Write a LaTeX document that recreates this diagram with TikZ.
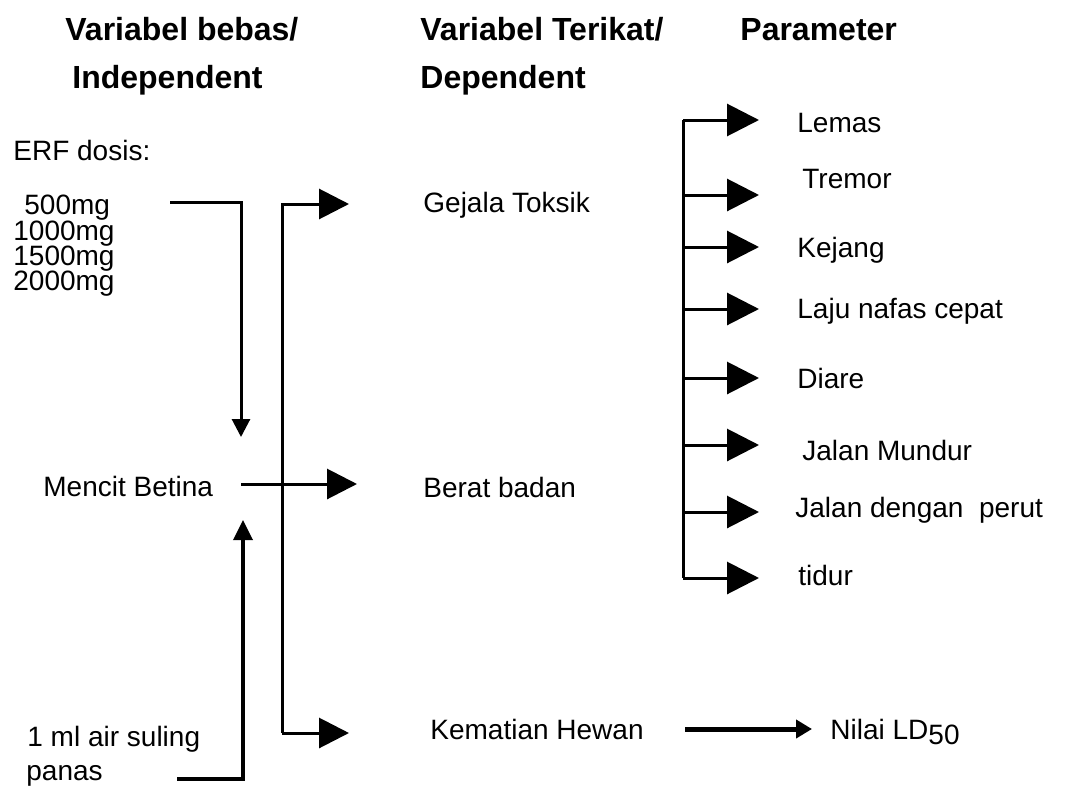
\documentclass[tikz,border=0pt]{standalone}
\usepackage{fontspec}
\setmainfont{Liberation Sans}
\usetikzlibrary{arrows.meta}
\begin{document}
\begin{tikzpicture}[x=0.5pt,y=-0.5pt,
  txt/.style={font=\fontsize{14}{16}\selectfont, inner sep=0pt, anchor=base west},
  dose/.style={txt},
  ttl/.style={font=\fontsize{16}{18}\selectfont\bfseries, inner sep=0pt, anchor=base west},
  ln/.style={line width=1.5pt},
  bigarr/.style={ln, -{Triangle[length=15pt,width=15pt]}},
  pararr/.style={ln, -{Triangle[length=16pt,width=16pt]}},
  smallarr/.style={ln, -{Triangle[length=9pt,width=9pt]}},
  uparr/.style={line width=1.75pt, -{Triangle[length=10pt,width=9.5pt]}},
  thickarr/.style={line width=2.5pt, -{Triangle[length=8pt,width=9pt]}}
]
\useasboundingbox (0,0) rectangle (1071,787);

% titles
\node[ttl] (t1) at (65,40) {Variabel bebas/};
\node[ttl] (t2) at (72,88) {Independent};
\node[ttl] (t3) at (420,40) {Variabel Terikat/};
\node[ttl] (t4) at (420,88) {Dependent};
\node[ttl] (t5) at (740,40) {Parameter};

% left column
\node[txt] (erf) at (13,160) {ERF dosis:};
\node[dose] (d1) at (24,214) {500mg};
\node[dose] (d2) at (13,240) {1000mg};
\node[dose] (d3) at (13,265) {1500mg};
\node[dose] (d4) at (13,290) {2000mg};
\node[txt] (mb) at (43,496) {Mencit Betina};
\node[txt] (air1) at (27,746) {1 ml air suling};
\node[txt] (air2) at (26,780) {panas};

% middle column
\node[txt] (gt) at (423,212) {Gejala Toksik};
\node[txt] (bb) at (423,497) {Berat badan};
\node[txt] (kh) at (430,739) {Kematian Hewan};
\node[txt] (ld) at (830,739) {Nilai LD\raisebox{-2.5pt}{50}};

% right column
\node[txt] (p1) at (797,132) {Lemas};
\node[txt] (p2) at (802,188) {Tremor};
\node[txt] (p3) at (797,257) {Kejang};
\node[txt] (p4) at (797,318) {Laju nafas cepat};
\node[txt] (p5) at (797,388) {Diare};
\node[txt] (p6) at (802,460) {Jalan Mundur};
\node[txt] (p7) at (795,517) {Jalan dengan\ \ perut};
\node[txt] (p8) at (798,585) {tidur};

% coordinates
\coordinate (dS) at (170,202);
\coordinate (dC) at (241,202);
\coordinate (dE) at (241,437);
\coordinate (uS) at (177,779);
\coordinate (uC) at (243,779);
\coordinate (uE) at (243,520);
\coordinate (bT) at (282,204);
\coordinate (bB) at (282,733);
\coordinate (aT) at (349,204);
\coordinate (mS) at (241,484);
\coordinate (aM) at (357,484);
\coordinate (aB) at (349,733);
\coordinate (kS) at (685,729);
\coordinate (kE) at (812,729);

% left arrows
\draw[smallarr] (dS) -- (dC) -- (dE);
\draw[uparr] (uS) -- (uC) -- (uE);

% bracket to dependent variables
\draw[bigarr] (bB) -- (aB);
\draw[bigarr] (bB) -- (bT) -- (aT);
\draw[bigarr] (mS) -- (aM);

% Kematian -> LD50
\draw[thickarr] (kS) -- (kE);

% parameter bracket
\coordinate (r1) at (683,120);
\coordinate (r8) at (683,578);
\draw[ln] (r1) -- (r8);
\foreach \yy/\nm in {120/a1,195/a2,247/a3,309/a4,378/a5,445/a6,512/a7,578/a8}{
  \coordinate (\nm s) at (683,\yy);
  \coordinate (\nm e) at (759,\yy);
  \draw[pararr] (\nm s) -- (\nm e);
}
\end{tikzpicture}
\end{document}
